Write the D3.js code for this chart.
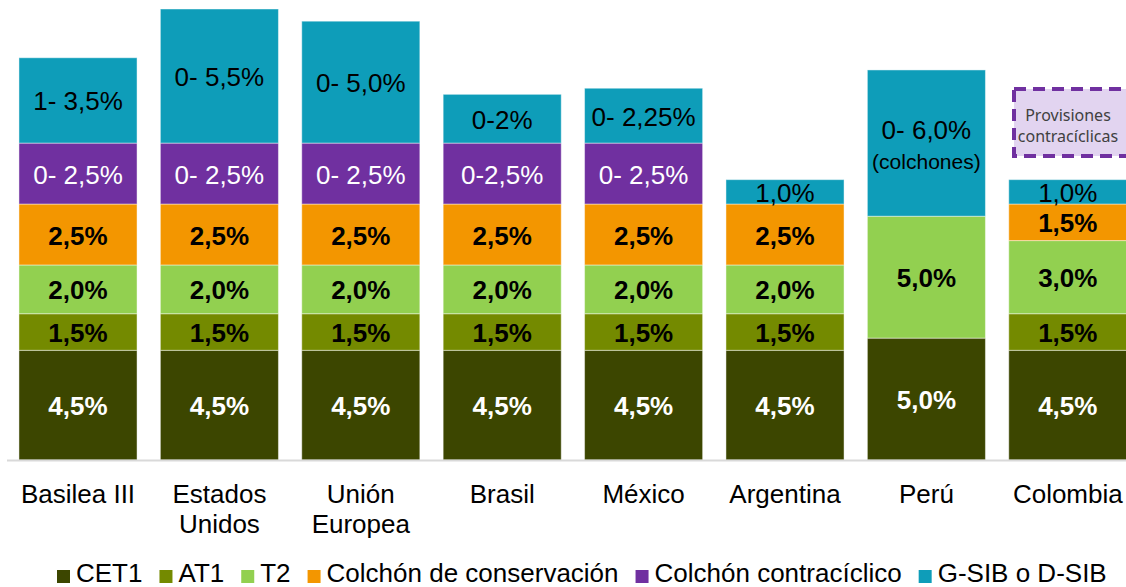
<!DOCTYPE html>
<html lang="es">
<head>
  <meta charset="utf-8">
  <title>Requerimientos de capital</title>
  <script src="https://cdnjs.cloudflare.com/ajax/libs/d3/7.8.5/d3.min.js"></script>
  <style>
    body { margin: 0; background: #fff; }
    svg text { font-family: "Liberation Sans", Arial, sans-serif; }
    .axis .domain { stroke: #d9d9d9; stroke-width: 2; }
  </style>
</head>
<body>
  <script>
    var w = 1126;
    var h = 587;
    var font = '"Liberation Sans", Arial, sans-serif';

    // data
    var paises = ['Basilea III', 'Estados Unidos', 'Unión Europea', 'Brasil', 'México', 'Argentina', 'Perú', 'Colombia'];
    var tickLabels = [['Basilea III'], ['Estados', 'Unidos'], ['Unión', 'Europea'], ['Brasil'], ['México'], ['Argentina'], ['Perú'], ['Colombia']];
    var series = ['CET1', 'AT1', 'T2', 'Colchón de conservación', 'Colchón contracíclico', 'G-SIB o D-SIB'];
    var cet1 = [4.5, 4.5, 4.5, 4.5, 4.5, 4.5, 5.0, 4.5];
    var at1 = [1.5, 1.5, 1.5, 1.5, 1.5, 1.5, 0, 1.5];
    var t2 = [2.0, 2.0, 2.0, 2.0, 2.0, 2.0, 5.0, 3.0];
    var conservacion = [2.5, 2.5, 2.5, 2.5, 2.5, 2.5, 0, 1.5];
    var contraciclico = [2.5, 2.5, 2.5, 2.5, 2.5, 0, 0, 0];
    var gsib = [3.5, 5.5, 5.0, 2.0, 2.25, 1.0, 6.0, 1.0];

    var cet1Labels = ['4,5%', '4,5%', '4,5%', '4,5%', '4,5%', '4,5%', '5,0%', '4,5%'];
    var at1Labels = ['1,5%', '1,5%', '1,5%', '1,5%', '1,5%', '1,5%', '', '1,5%'];
    var t2Labels = ['2,0%', '2,0%', '2,0%', '2,0%', '2,0%', '2,0%', '5,0%', '3,0%'];
    var conservacionLabels = ['2,5%', '2,5%', '2,5%', '2,5%', '2,5%', '2,5%', '', '1,5%'];
    var contraciclicoLabels = ['0- 2,5%', '0- 2,5%', '0- 2,5%', '0-2,5%', '0- 2,5%', '', '', ''];
    var gsibLabels = [['1- 3,5%'], ['0- 5,5%'], ['0- 5,0%'], ['0-2%'], ['0- 2,25%'], ['1,0%'], ['0- 6,0%', '(colchones)'], ['1,0%']];

    var colors = ['#3c4600', '#748a00', '#92d050', '#f39600', '#7030a0', '#0e9db9'];
    var labelFill = ['#fff', '#000', '#000', '#000', '#fff', '#000'];
    var labelWeight = ['bold', 'bold', 'bold', 'bold', 'normal', 'normal'];

    var values = [cet1, at1, t2, conservacion, contraciclico, gsib];
    var labels = [cet1Labels, at1Labels, t2Labels, conservacionLabels, contraciclicoLabels, gsibLabels];

    var table = paises.map(function (p, i) {
      var row = { pais: p };
      series.forEach(function (s, k) { row[s] = values[k][i]; });
      return row;
    });

    var stacked = d3.stack().keys(series)(table);

    var xScale = d3.scaleBand()
      .domain(paises)
      .range([7.3, 1138.5])
      .paddingInner(0.165)
      .paddingOuter(0.0825);

    var yScale = d3.scaleLinear()
      .domain([0, 18.5])
      .range([460, 9]);

    var svg = d3.select('body')
      .append('svg')
      .attr('width', w)
      .attr('height', h);

    var layers = svg.selectAll('g.layer')
      .data(stacked)
      .enter()
      .append('g')
      .attr('class', 'layer')
      .attr('fill', (d, k) => colors[k]);

    layers.selectAll('rect')
      .data(d => d.filter(s => s[1] - s[0] > 0))
      .enter()
      .append('rect')
      .attr('x', d => xScale(d.data.pais))
      .attr('y', d => yScale(d[1]))
      .attr('width', xScale.bandwidth())
      .attr('height', d => yScale(d[0]) - yScale(d[1]))
      .attr('stroke', 'rgba(255,255,255,0.45)')
      .attr('stroke-width', 1);

    // segment labels
    stacked.forEach(function (layer, k) {
      layer.forEach(function (seg, i) {
        var lab = labels[k][i];
        if (!lab || seg[1] - seg[0] <= 0) return;
        var lines = Array.isArray(lab) ? lab : [lab];
        var cx = xScale(seg.data.pais) + xScale.bandwidth() / 2;
        var cy = (yScale(seg[0]) + yScale(seg[1])) / 2;
        var t = svg.append('text')
          .attr('text-anchor', 'middle')
          .attr('fill', labelFill[k])
          .attr('font-weight', labelWeight[k])
          .attr('font-size', 26)
          .style('font-family', font);
        if (lines.length === 1) {
          t.attr('x', cx).attr('y', cy + 10).text(lines[0]);
        } else {
          t.append('tspan').attr('x', cx).attr('y', cy - 4).text(lines[0]);
          t.append('tspan').attr('x', cx).attr('y', cy + 26).attr('font-size', 21).text(lines[1]);
        }
      });
    });

    // x axis
    var axis = svg.append('g')
      .attr('class', 'axis')
      .attr('transform', 'translate(0,460)')
      .call(d3.axisBottom(xScale).tickSize(0).tickSizeOuter(0).tickFormat(''));
    axis.attr('font-family', null);
    axis.select('.domain').attr('d', 'M7,0.5H1126');

    axis.selectAll('.tick').each(function (d, i) {
      var t = d3.select(this).select('text')
        .attr('font-size', 26)
        .attr('fill', '#000')
        .attr('dy', null)
        .attr('y', 0)
        .style('font-family', font);
      tickLabels[i].forEach(function (line, j) {
        t.append('tspan').attr('x', 0).attr('y', 43 + j * 30).text(line);
      });
    });

    // provisiones box
    var box = svg.append('g');
    box.append('rect')
      .attr('x', 1014)
      .attr('y', 89)
      .attr('width', 120)
      .attr('height', 67)
      .attr('fill', '#e2d4f0')
      .attr('stroke', '#7030a0')
      .attr('stroke-width', 4)
      .attr('stroke-dasharray', '12,7');
    box.append('text')
      .attr('text-anchor', 'middle')
      .attr('font-size', 16)
      .attr('fill', '#404040')
      .style('font-family', '"Noto Sans", sans-serif')
      .selectAll('tspan')
      .data(['Provisiones', 'contracíclicas'])
      .enter()
      .append('tspan')
      .attr('x', 1068)
      .attr('y', (d, j) => 121 + j * 21)
      .text(d => d);

    // legend
    var legend = svg.append('g').attr('transform', 'translate(0,582)');
    var lx = 57;
    series.forEach(function (s, k) {
      legend.append('rect')
        .attr('x', lx)
        .attr('y', -12)
        .attr('width', 13)
        .attr('height', 13)
        .attr('fill', colors[k]);
      var t = legend.append('text')
        .attr('x', lx + 19)
        .attr('y', 0)
        .attr('font-size', 26)
        .attr('fill', '#000')
        .style('font-family', font)
        .text(s);
      lx += 19 + t.node().getComputedTextLength() + 17;
    });
  </script>
</body>
</html>
